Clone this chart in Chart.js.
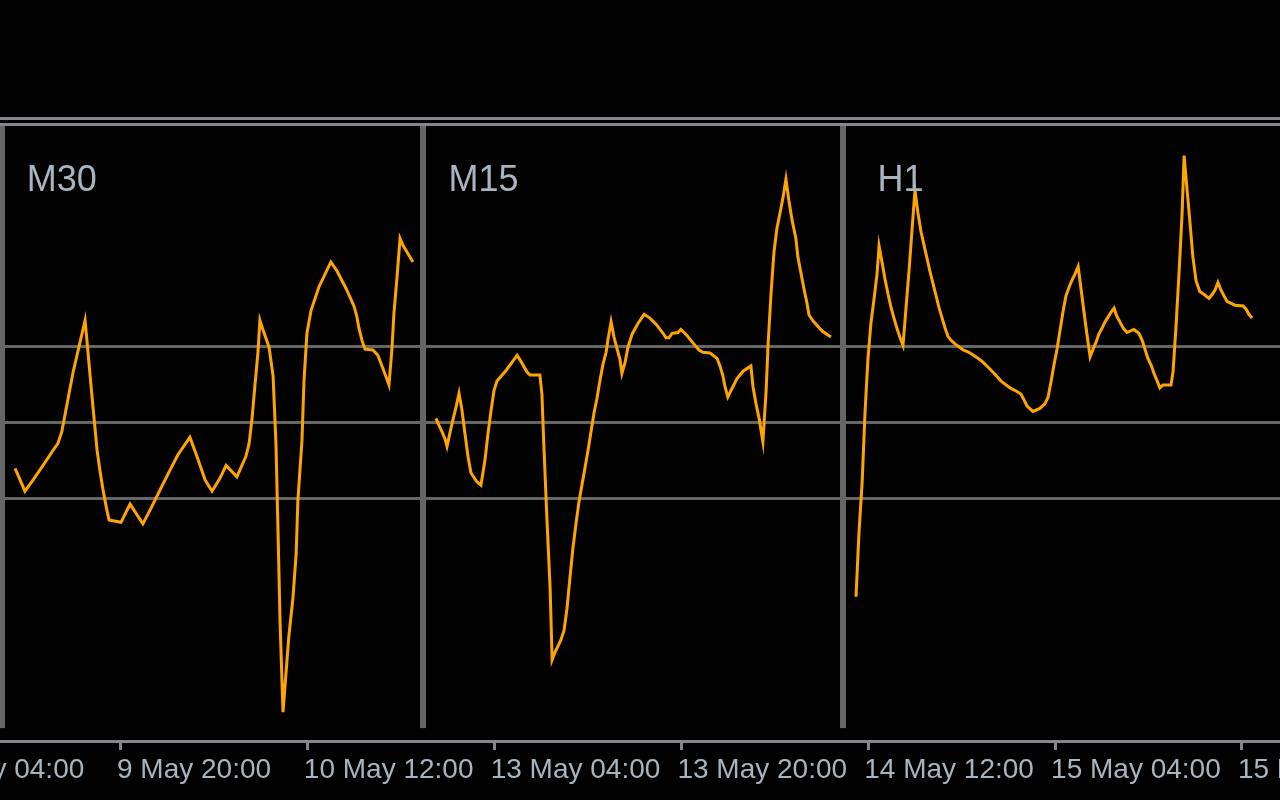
<!DOCTYPE html>
<html>
<head>
<meta charset="utf-8">
<style>
  html, body { margin: 0; padding: 0; background: #020203; }
  #wrap { width: 1280px; height: 800px; }
</style>
<script src="https://cdn.jsdelivr.net/npm/chart.js@4.4.1/dist/chart.umd.min.js"></script>
</head>
<body>
<div id="wrap"><canvas id="chart" width="1280" height="800"></canvas></div>
<script>
// x = M15 bar number counted from 9 May 20:00, y = indicator reading (levels at -1, 0, 1)
const tickBars = [-64, 0, 64, 128, 192, 256, 320, 384];
const tickLabels = ['9 May 04:00', '9 May 20:00', '10 May 12:00', '13 May 04:00',
  '13 May 20:00', '14 May 12:00', '15 May 04:00', '15 May 20:00'];
const levels = [-1, 0, 1];
const panelNames = ['M30', 'M15', 'H1'];

const m30Bars = [-36.3, -32.9, -30.1, -26.7, -23.6, -21.6, -20.3, -16.4, -12.3, -11.3,
  -10.3, -9.2, -8.2, -7.2, -6.2, -5.1, -4.1, 0, 3.1, 7.5,
  10.6, 14.7, 19.5, 23.6, 26.0, 28.8, 31.2, 33.9, 36.0, 39.7,
  42.8, 43.9, 44.9, 45.9, 46.9, 47.6, 48.6, 50.7, 52.1, 53.1,
  53.8, 54.5, 55.5, 56.5, 57.5, 58.9, 60.0, 60.6, 62.0, 62.7,
  63.7, 65.1, 67.8, 71.9, 74.0, 77.1, 79.8, 80.8, 81.5, 82.6,
  83.6, 86.3, 88.0, 89.8, 91.8, 92.8, 93.5, 94.6, 95.6, 96.6, 100.0];
const m30Values = [-0.61, -0.91, -0.76, -0.57, -0.39, -0.28, -0.13, 0.66, 1.34, 0.92,
  0.49, 0.04, -0.37, -0.64, -0.88, -1.11, -1.29, -1.32, -1.08, -1.34,
  -1.11, -0.79, -0.43, -0.20, -0.45, -0.76, -0.91, -0.74, -0.57, -0.72,
  -0.45, -0.28, 0.05, 0.49, 0.91, 1.34, 1.22, 0.99, 0.61, -0.30,
  -1.45, -2.64, -3.82, -3.32, -2.82, -2.32, -1.74, -1.03, -0.24, 0.55,
  1.17, 1.47, 1.78, 2.11, 1.99, 1.76, 1.53, 1.39, 1.24, 1.07,
  0.96, 0.95, 0.88, 0.70, 0.49, 0.95, 1.43, 1.93, 2.42, 2.33, 2.11];

const m15Bars = [107.9, 108.9, 110.0, 111.0, 111.7, 112.7, 113.7, 114.8, 115.8, 116.8,
  117.8, 118.9, 119.9, 122.0, 123.3, 124.7, 125.7, 126.8, 127.8, 128.8,
  131.9, 135.7, 136.7, 139.1, 140.1, 143.5, 144.2, 144.9, 145.9, 147.0,
  147.7, 148.7, 149.7, 150.7, 151.8, 152.8, 153.8, 154.8, 155.9, 156.9,
  157.9, 159.0, 160.0, 161.0, 162.0, 163.1, 164.1, 165.1, 166.2, 166.8,
  167.9, 168.9, 169.9, 170.9, 171.6, 172.7, 173.7, 175.1, 177.1, 179.2,
  181.2, 183.3, 185.7, 186.7, 187.7, 188.8, 190.8, 191.8, 193.9, 196.0,
  198.0, 199.4, 201.8, 204.2, 205.2, 206.2, 206.9, 207.9, 209.0, 211.0,
  213.1, 215.8, 216.5, 217.5, 218.6, 219.9, 221.0, 221.7, 222.7, 223.7,
  224.7, 225.8, 226.8, 227.8, 228.8, 229.9, 231.2, 231.9, 233.0, 234.0,
  235.0, 235.7, 237.1, 240.2, 243.2];
const m15Values = [0.05, -0.04, -0.13, -0.22, -0.32, -0.14, 0.03, 0.20, 0.38, 0.16,
  -0.14, -0.46, -0.67, -0.79, -0.83, -0.50, -0.16, 0.16, 0.42, 0.54,
  0.68, 0.88, 0.82, 0.66, 0.62, 0.62, 0.37, -0.34, -1.26, -2.18,
  -3.13, -3.03, -2.95, -2.87, -2.74, -2.45, -2.05, -1.67, -1.33, -1.05,
  -0.83, -0.59, -0.37, -0.13, 0.11, 0.32, 0.55, 0.76, 0.92, 1.08,
  1.32, 1.12, 0.97, 0.83, 0.64, 0.79, 0.99, 1.16, 1.30, 1.42,
  1.37, 1.29, 1.17, 1.11, 1.11, 1.17, 1.18, 1.22, 1.14, 1.04,
  0.95, 0.92, 0.91, 0.84, 0.74, 0.61, 0.47, 0.33, 0.42, 0.57,
  0.67, 0.74, 0.47, 0.25, 0.05, -0.26, 0.41, 1.04, 1.70, 2.24,
  2.55, 2.76, 2.96, 3.20, 2.92, 2.66, 2.42, 2.17, 1.95, 1.75,
  1.57, 1.41, 1.33, 1.20, 1.12];

const h1Bars = [251.8, 252.8, 253.9, 254.9, 255.9, 256.9, 258.0, 259.0, 259.7, 260.7,
  261.7, 262.8, 263.8, 264.8, 265.8, 266.9, 267.9, 268.9, 270.0, 271.0,
  272.0, 273.0, 274.1, 275.1, 276.1, 277.1, 278.2, 279.2, 280.2, 281.3,
  282.3, 283.3, 284.3, 285.7, 288.5, 290.5, 293.6, 295.3, 297.4, 299.4,
  301.5, 304.6, 306.6, 308.3, 309.4, 310.4, 312.4, 314.8, 316.5, 317.6,
  318.6, 319.6, 320.7, 321.7, 322.7, 323.7, 324.8, 325.8, 326.8, 327.9,
  328.9, 329.9, 330.9, 332.0, 333.0, 334.0, 335.0, 336.1, 337.1, 338.1,
  339.2, 340.2, 341.2, 342.2, 343.3, 344.6, 347.0, 348.7, 349.8, 350.8,
  351.8, 352.9, 353.9, 354.9, 355.9, 357.0, 359.7, 360.4, 361.4, 362.5,
  363.5, 364.2, 365.2, 366.2, 367.2, 368.3, 369.6, 371.4, 372.7, 373.8,
  374.8, 375.8, 376.8, 377.9, 378.9, 381.6, 384.4, 385.4, 386.4, 387.5];
const h1Values = [-2.30, -1.47, -0.79, 0.14, 0.84, 1.30, 1.63, 1.95, 2.32, 2.11,
  1.89, 1.68, 1.51, 1.37, 1.24, 1.11, 1.01, 1.49, 2.01, 2.54,
  3.05, 2.76, 2.50, 2.33, 2.16, 1.99, 1.82, 1.67, 1.51, 1.37,
  1.24, 1.13, 1.08, 1.03, 0.95, 0.92, 0.84, 0.79, 0.71, 0.63,
  0.54, 0.45, 0.41, 0.37, 0.29, 0.21, 0.14, 0.18, 0.24, 0.33,
  0.53, 0.75, 0.97, 1.21, 1.45, 1.66, 1.78, 1.87, 1.95, 2.05,
  1.75, 1.45, 1.16, 0.86, 0.96, 1.05, 1.16, 1.24, 1.32, 1.38,
  1.45, 1.50, 1.39, 1.32, 1.24, 1.18, 1.22, 1.17, 1.08, 0.96,
  0.84, 0.75, 0.64, 0.55, 0.45, 0.49, 0.49, 0.66, 1.24, 1.99,
  2.74, 3.51, 3.07, 2.63, 2.18, 1.86, 1.72, 1.67, 1.63, 1.68,
  1.74, 1.84, 1.74, 1.66, 1.59, 1.54, 1.53, 1.49, 1.42, 1.37];

// where the sub-windows sit, in the same bar / value units as the data
const panelLayout = {
  separators: [-40.8, 103.5, 247.3],
  floor: -4.03,
  labelBars: [-32.3, 112.2, 259.2],
  labelLevel: 3.05
};

const frameGrey = '#86868e';
const paneGrey = '#666666';
const textGrey = '#a8b4c0';

function series(bars, values) {
  return {
    data: bars.map((b, i) => ({ x: b, y: values[i] })),
    borderColor: '#ffa500',
    borderWidth: 3,
    pointRadius: 0,
    tension: 0,
    fill: false
  };
}

const panelPlugin = {
  id: 'panels',
  afterDraw(chart) {
    const { ctx, chartArea, scales: { x, y } } = chart;
    ctx.save();
    // double border of the indicator window
    ctx.fillStyle = frameGrey;
    ctx.fillRect(0, chartArea.top - 9, chart.width, 3);
    ctx.fillRect(0, chartArea.top - 3, chart.width, 3);
    // pane separators
    ctx.fillStyle = paneGrey;
    const bottom = y.getPixelForValue(panelLayout.floor);
    panelLayout.separators.forEach(b => {
      const px = Math.round(x.getPixelForValue(b));
      ctx.fillRect(px - 3, chartArea.top, 6, bottom - chartArea.top);
    });
    // pane titles
    ctx.font = '36px "Liberation Sans", Arial, sans-serif';
    ctx.fillStyle = textGrey;
    ctx.textBaseline = 'alphabetic';
    ctx.textAlign = 'left';
    panelNames.forEach((name, i) => {
      ctx.fillText(name, x.getPixelForValue(panelLayout.labelBars[i]),
        y.getPixelForValue(panelLayout.labelLevel));
    });
    ctx.restore();
  }
};

new Chart(document.getElementById('chart'), {
  type: 'line',
  data: {
    datasets: [series(m30Bars, m30Values), series(m15Bars, m15Values), series(h1Bars, h1Values)]
  },
  options: {
    responsive: false,
    animation: false,
    devicePixelRatio: 1,
    layout: { padding: { top: 126, left: 0, right: 0, bottom: 0 } },
    plugins: {
      legend: { display: false },
      tooltip: { enabled: false }
    },
    scales: {
      x: {
        type: 'linear',
        min: -41.45,
        max: 397.05,
        afterBuildTicks: s => { s.ticks = tickBars.map(v => ({ value: v })); },
        afterFit: s => { s.height = 59; s.paddingLeft = 0; s.paddingRight = 0; },
        ticks: {
          autoSkip: false,
          maxRotation: 0,
          minRotation: 0,
          align: 'start',
          labelOffset: -4,
          padding: 3,
          color: textGrey,
          font: { family: '"Liberation Sans", Arial, sans-serif', size: 28 },
          callback: (v, i) => tickLabels[i]
        },
        grid: {
          drawOnChartArea: false,
          drawTicks: true,
          tickLength: 9,
          tickWidth: 3,
          tickColor: frameGrey
        },
        border: { display: true, color: frameGrey, width: 3 }
      },
      y: {
        min: -4.2,
        max: 3.9,
        afterBuildTicks: s => { s.ticks = levels.map(v => ({ value: v })); },
        afterFit: s => { s.width = 0; s.paddingTop = 0; s.paddingBottom = 0; },
        ticks: { display: false },
        grid: { color: paneGrey, lineWidth: 3, drawTicks: false },
        border: { display: false }
      }
    }
  },
  plugins: [panelPlugin]
});
</script>
</body>
</html>
